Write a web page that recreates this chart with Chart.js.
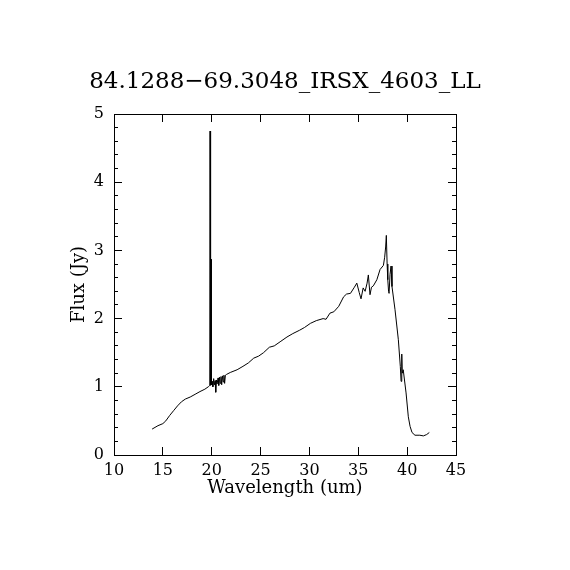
<!DOCTYPE html>
<html lang="en">
<head>
    <meta charset="UTF-8">
    <title>84.1288-69.3048_IRSX_4603_LL</title>
    <script src="https://cdn.jsdelivr.net/npm/chart.js"></script>
    <style>
        body { margin: 0; background: #ffffff; }
        canvas { display: block; }
    </style>
</head>
<body>
    <canvas id="spectrum" width="570" height="570"></canvas>

    <script>
        // values
        const wavelength = [
            13.9, 14.5, 15.0, 15.3, 15.7, 16.1, 16.5, 16.9, 17.3, 17.8, 18.3, 18.8, 19.3, 19.65,
            19.8, 19.83, 19.86, 19.91, 19.93, 19.96,
            20.05, 20.12, 20.2, 20.28, 20.35, 20.41, 20.48, 20.55, 20.65, 20.72, 20.8, 20.88,
            20.95, 21.02, 21.1, 21.18, 21.25, 21.32, 21.4,
            21.5, 21.9, 22.6, 23.2, 23.75, 24.3, 24.8, 25.3, 25.9, 26.4, 27.0, 27.7, 28.3, 29.0,
            29.5, 30.1, 30.7, 31.4, 31.7, 32.1, 32.5, 33.0, 33.5, 33.8, 34.2, 34.6, 34.85,
            35.1, 35.28, 35.5, 35.7, 35.9, 36.03, 36.2, 36.35, 36.54, 36.9, 37.23, 37.57,
            37.7, 37.8, 37.87, 37.95, 38.02, 38.1, 38.15, 38.25, 38.35, 38.45, 38.76, 39.1,
            39.3, 39.38, 39.45, 39.5, 39.6, 39.89, 40.12, 40.3, 40.5, 40.8, 41.3, 41.66, 42.0, 42.27
        ];
        const flux = [
            0.38, 0.43, 0.46, 0.50, 0.58, 0.65, 0.72, 0.78, 0.82, 0.85, 0.89, 0.93, 0.965, 1.0,
            1.02, 4.75, 1.02, 1.03, 2.87, 1.03,
            1.08, 1.0, 1.12, 1.03, 1.09, 0.92, 1.1, 1.04, 1.13, 1.02, 1.14, 1.05,
            1.15, 1.03, 1.16, 1.07, 1.17, 1.05, 1.17,
            1.18, 1.21, 1.25, 1.30, 1.35, 1.42, 1.45, 1.50, 1.58, 1.60, 1.66, 1.73, 1.78, 1.83,
            1.87, 1.93, 1.97, 2.0, 1.99, 2.08, 2.10, 2.18, 2.32, 2.36, 2.37, 2.46, 2.52,
            2.38, 2.29, 2.45, 2.40, 2.52, 2.64, 2.35, 2.46, 2.48, 2.57, 2.72, 2.78,
            2.90, 3.05, 3.22, 2.80, 2.57, 2.40, 2.37, 2.65, 2.77, 2.47, 2.13, 1.69,
            1.30, 1.08, 1.48, 1.20, 1.25, 0.91, 0.56, 0.42, 0.33, 0.29, 0.29, 0.28, 0.30, 0.33
        ];
        const xTicks = [10, 15, 20, 25, 30, 35, 40, 45];
        const yTicks = [0, 1, 2, 3, 4, 5];

        const serif = 'DejaVu Serif';
        const points = wavelength.map((w, i) => ({ x: w, y: flux[i] }));

        // inward tick marks, no grid
        const tickGrid = (len) => ({
            display: true,
            drawOnChartArea: false,
            tickLength: len,
            color: '#000'
        });
        const blackBorder = { display: true, color: '#000', width: 1 };

        new Chart(document.getElementById('spectrum'), {
            type: 'line',
            data: {
                datasets: [{
                    data: points,
                    borderColor: '#000',
                    borderWidth: 1,
                    pointRadius: 0,
                    tension: 0,
                    fill: false
                }]
            },
            options: {
                responsive: false,
                animation: false,
                devicePixelRatio: 1,
                layout: { padding: 0 },
                plugins: {
                    legend: { display: false },
                    tooltip: { enabled: false },
                    title: {
                        display: true,
                        text: '84.1288\u221269.3048_IRSX_4603_LL',
                        color: '#000',
                        font: { family: serif, size: 23, weight: 'normal' },
                        padding: { top: 68, bottom: 0 }
                    }
                },
                scales: {
                    x: {
                        type: 'linear', position: 'bottom', min: 10, max: 45,
                        afterBuildTicks: s => { s.ticks = xTicks.map(v => ({ value: v })); },
                        ticks: { color: '#000', font: { family: serif, size: 16 }, padding: 14, maxRotation: 0 },
                        grid: tickGrid(-8),
                        border: blackBorder,
                        title: {
                            display: true, text: 'Wavelength (um)', color: '#000',
                            font: { family: serif, size: 18 }, padding: { top: 0, bottom: 71 }
                        },
                        afterFit: s => { s.height = 115; }
                    },
                    xTop: {
                        type: 'linear', position: 'top', min: 10, max: 45,
                        afterBuildTicks: s => { s.ticks = xTicks.map(v => ({ value: v })); },
                        ticks: { display: false },
                        grid: tickGrid(-8),
                        border: blackBorder,
                        afterFit: s => { s.height = 114 - 68 - 27.6; }
                    },
                    y: {
                        type: 'linear', position: 'left', min: 0, max: 5, weight: 1,
                        afterBuildTicks: s => { s.ticks = yTicks.map(v => ({ value: v })); },
                        ticks: { color: '#000', font: { family: serif, size: 16 }, padding: 18 },
                        grid: tickGrid(-8),
                        border: blackBorder,
                        title: {
                            display: true, text: 'Flux (Jy)', color: '#000',
                            font: { family: serif, size: 18 }, padding: { top: 69, bottom: 0 }
                        },
                        afterFit: s => { s.width = 114; }
                    },
                    yMinor: {
                        type: 'linear', position: 'left', min: 0, max: 5, weight: 0,
                        ticks: { display: false, stepSize: 0.2 },
                        grid: tickGrid(-4),
                        border: blackBorder,
                        afterFit: s => { s.width = 0; }
                    },
                    y2: {
                        type: 'linear', position: 'right', min: 0, max: 5, weight: 1,
                        afterBuildTicks: s => { s.ticks = yTicks.map(v => ({ value: v })); },
                        ticks: { display: false },
                        grid: tickGrid(-8),
                        border: blackBorder,
                        afterFit: s => { s.width = 114; }
                    },
                    y2Minor: {
                        type: 'linear', position: 'right', min: 0, max: 5, weight: 0,
                        ticks: { display: false, stepSize: 0.2 },
                        grid: tickGrid(-4),
                        border: blackBorder,
                        afterFit: s => { s.width = 0; }
                    }
                }
            }
        });
    </script>
</body>
</html>
